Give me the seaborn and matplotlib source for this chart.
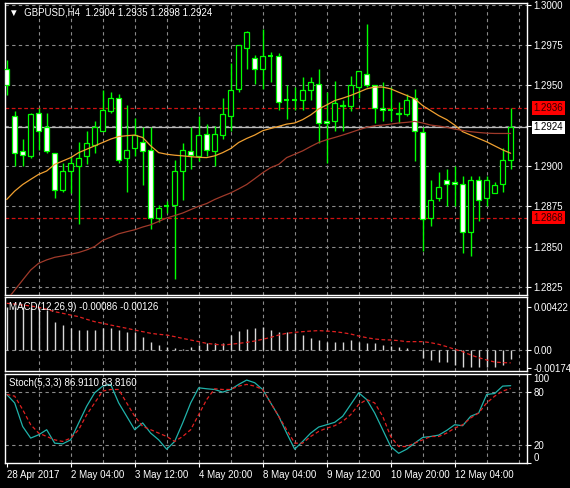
import numpy as np
import pandas as pd
import seaborn as sns
import matplotlib
matplotlib.use("Agg")
import matplotlib.pyplot as plt

opens = [1.2960,1.2931,1.2909,1.2906,1.2933,1.2924,1.2908,1.2885,1.2897,1.2900,1.2906,1.2913,1.2922,1.2934,1.2942,1.2905,
         1.2911,1.2915,1.2910,1.2868,1.2875,1.2876,1.2897,1.2909,1.2906,1.2920,1.2909,1.2919,1.2931,1.2948,1.2973,1.2967,
         1.2960,1.2968,1.2968,1.2941,1.2941,1.2941,1.2947,1.2951,1.2928,1.2928,1.2938,1.2937,1.2949,1.2957,1.2950,1.2936,
         1.2935,1.2933,1.2932,1.2942,1.2921,1.2868,1.2880,1.2891,1.2890,1.2889,1.2859,1.2891,1.2880,1.2883,1.2889,1.2904]
highs = [1.2966,1.2934,1.2917,1.2933,1.2936,1.2933,1.2908,1.2902,1.2906,1.2915,1.2922,1.2928,1.2947,1.2946,1.2945,1.2938,
         1.2930,1.2924,1.2924,1.2876,1.2878,1.2904,1.2914,1.2924,1.2931,1.2926,1.2925,1.2942,1.2964,1.2975,1.2984,1.2969,
         1.2985,1.2971,1.2970,1.2950,1.2949,1.2955,1.2955,1.2960,1.2946,1.2953,1.2941,1.2956,1.2959,1.2988,1.2950,1.2952,
         1.2949,1.2940,1.2945,1.2948,1.2924,1.2891,1.2896,1.2898,1.2900,1.2894,1.2894,1.2894,1.2894,1.2890,1.2911,1.2936]
lows = [1.2944,1.2900,1.2900,1.2905,1.2910,1.2908,1.2880,1.2884,1.2883,1.2864,1.2901,1.2908,1.2922,1.2933,1.2902,1.2884,
        1.2906,1.2888,1.2861,1.2865,1.2871,1.2830,1.2879,1.2898,1.2903,1.2906,1.2900,1.2917,1.2922,1.2946,1.2960,1.2951,
        1.2948,1.2952,1.2935,1.2929,1.2935,1.2935,1.2941,1.2914,1.2902,1.2922,1.2922,1.2934,1.2942,1.2949,1.2927,1.2928,
        1.2928,1.2927,1.2931,1.2903,1.2847,1.2863,1.2878,1.2875,1.2875,1.2846,1.2844,1.2866,1.2875,1.2883,1.2884,1.2898]
closes = [1.2950,1.2908,1.2907,1.2932,1.2922,1.2909,1.2885,1.2897,1.2902,1.2905,1.2914,1.2924,1.2935,1.2942,1.2904,1.2910,
          1.2919,1.2909,1.2868,1.2874,1.2875,1.2897,1.2910,1.2907,1.2919,1.2910,1.2920,1.2932,1.2947,1.2975,1.2983,1.2960,
          1.2968,1.2968,1.2940,1.2941,1.2941,1.2947,1.2952,1.2927,1.2927,1.2939,1.2937,1.2950,1.2959,1.2950,1.2936,1.2935,
          1.2935,1.2932,1.2941,1.2922,1.2867,1.2879,1.2887,1.2889,1.2889,1.2859,1.2891,1.2879,1.2891,1.2888,1.2904,1.2924]
ma_fast = [1.28792,1.28844,1.28885,1.28917,1.28948,1.28969,1.29010,1.29031,1.29052,1.29083,1.29104,1.29125,1.29146,1.29167,
           1.29183,1.29188,1.29192,1.29177,1.29125,1.29083,1.29073,1.29067,1.29063,1.29058,1.29054,1.29052,1.29063,1.29083,
           1.29108,1.29146,1.29171,1.29192,1.29219,1.29233,1.29246,1.29260,1.29267,1.29288,1.29317,1.29354,1.29379,1.29406,
           1.29421,1.29438,1.29458,1.29479,1.29490,1.29490,1.29479,1.29458,1.29438,1.29417,1.29375,1.29344,1.29313,1.29288,
           1.29254,1.29213,1.29192,1.29171,1.29150,1.29125,1.29100,1.29079]
ma_slow = [1.28167,1.28229,1.28292,1.28354,1.28396,1.28417,1.28433,1.28442,1.28452,1.28463,1.28479,1.28500,1.28538,1.28558,
           1.28579,1.28592,1.28604,1.28621,1.28635,1.28656,1.28677,1.28692,1.28708,1.28729,1.28750,1.28767,1.28792,1.28813,
           1.28833,1.28858,1.28885,1.28921,1.28958,1.28990,1.29010,1.29052,1.29073,1.29094,1.29121,1.29146,1.29163,1.29177,
           1.29192,1.29208,1.29225,1.29240,1.29250,1.29254,1.29260,1.29267,1.29271,1.29277,1.29267,1.29254,1.29248,1.29240,
           1.29229,1.29221,1.29213,1.29208,1.29204,1.29202,1.29202,1.29202]
macd_hist = [0.00425,0.00425,0.00425,0.00419,0.00409,0.00392,0.00278,0.00245,0.00213,0.00196,0.00196,0.00196,0.00213,0.00213,
             0.00196,0.00180,0.00180,0.00131,0.00082,0.00049,0.00026,0.00016,0.00007,0.00026,0.00049,0.00065,0.00065,0.00065,
             0.00147,0.00190,0.00203,0.00213,0.00222,0.00196,0.00180,0.00180,0.00164,0.00147,0.00114,0.00098,0.00082,0.00082,
             0.00082,0.00098,0.00082,0.00065,0.00065,0.00049,0.00039,0.00033,0.00016,0.0,-0.00082,-0.00098,-0.00114,-0.00114,
             -0.00147,-0.00164,-0.00164,-0.00164,-0.00164,-0.00164,-0.00147,-0.00086]
macd_signal = [0.00458,0.00451,0.00441,0.00432,0.00419,0.00399,0.00376,0.00360,0.00343,0.00327,0.00301,0.00278,0.00262,0.00245,
               0.00229,0.00213,0.00196,0.00180,0.00164,0.00154,0.00147,0.00131,0.00114,0.00098,0.00082,0.00065,0.00056,0.00049,
               0.00056,0.00065,0.00075,0.00088,0.00105,0.00124,0.00147,0.00164,0.00173,0.00180,0.00186,0.00190,0.00186,0.00180,
               0.00170,0.00157,0.00137,0.00121,0.00108,0.00101,0.00098,0.00092,0.00082,0.00082,0.00082,0.00072,0.00056,0.00033,
               0.00007,-0.00016,-0.00049,-0.00075,-0.00098,-0.00118,-0.00124,-0.00126]
stoch_main = [77,67.5,41,28,31.7,37.4,22.3,21.5,26,45,63.8,78.9,86.4,88.3,67.5,52.5,37.4,45,33.6,26,15.5,24.2,45,67.5,
              84.5,83.4,82.6,79.6,82.6,88.3,93.2,90.2,82.6,67.5,52.5,33.6,15.5,24.2,33.6,40.4,43,45.7,52.5,65.7,78.9,71.3,
              56.2,37.4,18.5,10.9,15.5,22.3,28.7,29.8,31.3,36.6,43,41.9,52.5,56.2,77,78.1,86.4,86.9]
stoch_signal = [77,75.1,60,43,33.6,29.8,26,24.2,27.9,37.4,54.3,67.5,80.8,82.6,82.6,67.5,52.5,41.1,37.4,33.6,29.8,24.2,29.8,
                37.4,54.3,71.3,83.4,82.6,82.6,86.4,88.3,86.4,82.6,67.5,52.5,37.4,22.3,22.3,29.8,35.5,39.2,41.9,46.8,54.3,65.7,
                71.3,67.5,52.5,29.8,18.5,18.5,22.3,26,29.8,29.8,33.6,39.2,43,50.6,56.2,67.5,75.1,80.8,83.8]
date_labels = ["28 Apr 2017", "2 May 04:00", "3 May 12:00", "4 May 20:00", "8 May 04:00",
               "9 May 12:00", "10 May 20:00", "12 May 04:00"]
price_ticks = [1.2825, 1.2850, 1.2875, 1.2900, 1.2925, 1.2950, 1.2975, 1.3000]
levels_red = [1.2936, 1.2868]
bid = 1.2924

sns.set_theme(style="dark", rc={"axes.facecolor": "black", "figure.facecolor": "black"})
plt.rcParams['font.family'] = ['Liberation Sans', 'DejaVu Sans']

df = pd.DataFrame({"i": np.arange(len(opens)), "o": opens, "h": highs, "l": lows, "c": closes,
                   "maf": ma_fast, "mas": ma_slow, "mh": macd_hist, "ms": macd_signal,
                   "sk": stoch_main, "sd": stoch_signal})

fig = plt.figure(figsize=(5.7, 4.88), dpi=100)
L, W = 5/570, 522/570
ax1 = fig.add_axes([L, 1-295/488, W, 292/488])
ax2 = fig.add_axes([L, 1-371/488, W, 74/488])
ax3 = fig.add_axes([L, 1-463/488, W, 89/488])
GREEN = "#00ff00"
grid_kw = dict(color="#8a8a8a", lw=0.8, ls=(0, (3, 3)))
FS = 7

for ax in (ax1, ax2, ax3):
    ax.set_facecolor("black")
    ax.set_xlim(-0.21, 65.04)
    for s in ax.spines.values():
        s.set_color("white"); s.set_linewidth(1)
        s.set_visible(True)
    for k in range(4, 65, 4):
        ax.axvline(k, **grid_kw, zorder=0)
    ax.set_xticks([])
    ax.yaxis.tick_right()
    ax.tick_params(axis="y", colors="white", labelsize=FS, length=3, width=0.8, pad=1.5, direction="out", right=True)

# main
ax1.set_ylim(1.28199, 1.30012)
for p in price_ticks:
    ax1.axhline(p, **grid_kw, zorder=0)
ax1.set_yticks(price_ticks)
ax1.set_yticklabels(["" if abs(p - bid) < 0.0002 else f"{p:.4f}" for p in price_ticks])
for _, r in df.iterrows():
    ax1.vlines(r.i, r.l, r.h, color=GREEN, lw=1, zorder=2)
    top, bot = max(r.o, r.c), min(r.o, r.c)
    fc = "white" if r.c < r.o else "black"
    if top - bot < 0.00004:
        ax1.hlines(r.c, r.i - 0.3, r.i + 0.3, color=GREEN, lw=1.5, zorder=3)
    else:
        ax1.bar(r.i, top - bot, bottom=bot, width=0.62, color=fc, edgecolor=GREEN, lw=0.9, zorder=3)
sns.lineplot(data=df, x="i", y="maf", ax=ax1, color="#f0a030", lw=0.9, zorder=4)
sns.lineplot(data=df, x="i", y="mas", ax=ax1, color="#a03a2a", lw=0.9, zorder=4)
for lv in levels_red:
    ax1.axhline(lv, color="#d01010", lw=0.9, ls=(0, (3, 2)), zorder=1)
    ax1.text(1.012, lv, f"{lv:.4f}", transform=ax1.get_yaxis_transform(), fontsize=FS, color="#300000",
             va="center", ha="left", bbox=dict(fc="#ff0000", ec="none", pad=1.2), clip_on=False, zorder=10)
ax1.axhline(bid, color="#b8b8b8", lw=0.9, zorder=1)
ax1.text(1.012, bid, f"{bid:.4f}", transform=ax1.get_yaxis_transform(), fontsize=FS, color="black",
         va="center", ha="left", bbox=dict(fc="white", ec="none", pad=1.2), clip_on=False, zorder=10)
ax1.text(0.008, 0.985, "\u25bc  GBPUSD,H4  1.2904 1.2935 1.2898 1.2924", transform=ax1.transAxes,
         color="white", fontsize=FS, va="top", ha="left")
ax1.set_xlabel(""); ax1.set_ylabel("")

# MACD
ax2.set_ylim(-0.00206, 0.0052)
ax2.axhline(0, **grid_kw, zorder=0)
ax2.vlines(df.i, 0, df.mh, color="#d8d8d8", lw=1, zorder=2)
sns.lineplot(data=df, x="i", y="ms", ax=ax2, color="#e02020", lw=0.9, ls=(0, (3, 2)), zorder=3)
ax2.set_yticks([0.00422, 0.0, -0.00174])
ax2.set_yticklabels(["0.00422", "0.00", "-0.00174"])
ax2.text(0.008, 0.93, "MACD(12,26,9) -0.00086 -0.00126", transform=ax2.transAxes,
         color="white", fontsize=FS, va="top", ha="left")
ax2.set_xlabel(""); ax2.set_ylabel("")

# Stoch
ax3.set_ylim(0, 100)
for lv in (20, 80):
    ax3.axhline(lv, **grid_kw, zorder=0)
sns.lineplot(data=df, x="i", y="sk", ax=ax3, color="#20b2aa", lw=0.9, zorder=3)
sns.lineplot(data=df, x="i", y="sd", ax=ax3, color="#e02020", lw=0.9, ls=(0, (3, 2)), zorder=3)
ax3.set_yticks([100, 80, 20, 0])
ax3.set_yticklabels(["100", "80", "20", "0"])
labs = ax3.get_yticklabels()
labs[0].set_va("top"); labs[3].set_va("bottom")
ax3.text(0.008, 0.95, "Stoch(5,3,3) 86.9110 83.8160", transform=ax3.transAxes,
         color="white", fontsize=FS, va="top", ha="left")
ax3.set_xticks(list(range(0, 64, 8)))
ax3.set_xticklabels(date_labels, ha="left")
ax3.tick_params(axis="x", colors="white", labelsize=FS, length=3, width=0.8, pad=2, bottom=True)
ax3.set_xlabel(""); ax3.set_ylabel("")

fig.savefig("out.png", dpi=100, facecolor="black")
